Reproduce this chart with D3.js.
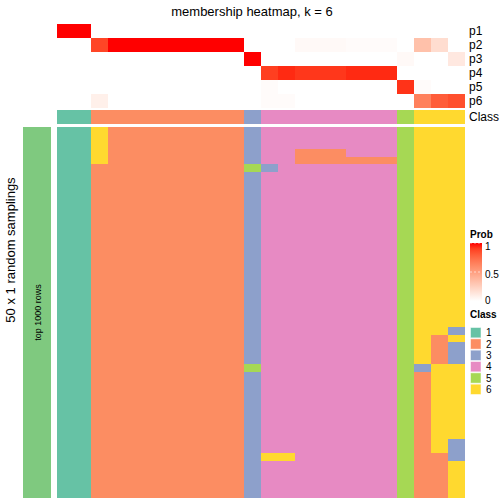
<!DOCTYPE html>
<html>
<head>
<meta charset="utf-8">
<script src="https://cdn.jsdelivr.net/npm/d3@7"></script>
<style>
  body { margin: 0; background: #fff; }
  svg { display: block; font-family: "Liberation Sans", Arial, Helvetica, sans-serif; }
</style>
</head>
<body>
<div id="chart"></div>
<script>
// ---------------- data ----------------
const title = "membership heatmap, k = 6";
const probRows = ["p1", "p2", "p3", "p4", "p5", "p6"];
const classes = [1, 2, 3, 4, 5, 6];
const columnClass = [1,1,2,2,2,2,2,2,2,2,2,3,4,4,4,4,4,4,4,4,5,6,6,6];
const p1 = [1,1,0,0,0,0,0,0,0,0,0,0,0,0,0,0,0,0,0,0,0,0,0,0];
const p2 = [0,0,0.88,1,1,1,1,1,1,1,1,0,0,0,0.03,0.03,0.03,0.02,0.02,0.02,0,0.33,0.18,0];
const p3 = [0,0,0,0,0,0,0,0,0,0,0,1,0,0,0,0,0,0,0,0,0.03,0,0,0.12];
const p4 = [0,0,0,0,0,0,0,0,0,0,0,0,0.9,0.95,0.92,0.92,0.92,0.95,0.95,0.95,0,0,0,0];
const p5 = [0,0,0,0,0,0,0,0,0,0,0,0,0.02,0,0,0,0,0,0,0,0.93,0.02,0,0];
const p6 = [0,0,0.08,0,0,0,0,0,0,0,0,0,0.02,0.02,0,0,0,0,0,0,0,0.65,0.8,0.85];
// 50 random samplings x 24 columns: class assigned in each sampling
const samplings = [
  "116222222223444444445666",
  "116222222223444444445666",
  "116222222223444444445666",
  "116222222223442224445666",
  "116222222223442222225666",
  "112222222225344444445666",
  "112222222223444444445666",
  "112222222223444444445666",
  "112222222223444444445666",
  "112222222223444444445666",
  "112222222223444444445666",
  "112222222223444444445666",
  "112222222223444444445666",
  "112222222223444444445666",
  "112222222223444444445666",
  "112222222223444444445666",
  "112222222223444444445666",
  "112222222223444444445666",
  "112222222223444444445666",
  "112222222223444444445666",
  "112222222223444444445666",
  "112222222223444444445666",
  "112222222223444444445666",
  "112222222223444444445666",
  "112222222223444444445666",
  "112222222223444444445666",
  "112222222223444444445666",
  "112222222223444444445663",
  "112222222223444444445626",
  "112222222223444444445623",
  "112222222223444444445623",
  "112222222223444444445623",
  "112222222225444444445366",
  "112222222223444444445266",
  "112222222223444444445266",
  "112222222223444444445266",
  "112222222223444444445266",
  "112222222223444444445266",
  "112222222223444444445266",
  "112222222223444444445266",
  "112222222223444444445266",
  "112222222223444444445266",
  "112222222223444444445263",
  "112222222223444444445263",
  "112222222223664444445223",
  "112222222223444444445226",
  "112222222223444444445226",
  "112222222223444444445226",
  "112222222223444444445226",
  "112222222223444444445226"
];
const probTicks = [0, 0.5, 1];
const leftTitle = "50 x 1 random samplings";
const sideLabel = "top 1000 rows";

// ---------------- drawing ----------------
const W = 504, H = 504;
const svg = d3.select("#chart").append("svg").attr("width", W).attr("height", H);

const nCol = columnClass.length;
const x = d3.scaleBand().domain(d3.range(nCol)).range([57, 465]);
const yP = d3.scaleBand().domain(probRows).range([24, 108]);
const yClass = [110, 124];
const yS = d3.scaleBand().domain(d3.range(samplings.length)).range([127, 498]);
const probColor = d3.scaleLinear().domain([0, 1]).range(["#ffffff", "#ff0000"]).interpolate(d3.interpolateLab);
const classColor = d3.scaleOrdinal().domain(classes).range(d3.schemeSet2.slice(0, 6));

// title
svg.append("text").attr("x", 252).attr("y", 16).attr("text-anchor", "middle")
  .attr("font-size", 13).text(title);

// probability rows
const probData = [p1, p2, p3, p4, p5, p6];
const gP = svg.append("g").attr("shape-rendering", "crispEdges");
probRows.forEach((name, ri) => {
  gP.selectAll(null).data(probData[ri]).join("rect")
    .attr("x", (d, i) => x(i)).attr("y", yP(name))
    .attr("width", x.bandwidth()).attr("height", yP.bandwidth())
    .attr("fill", d => probColor(d));
});
svg.selectAll(".plab").data(probRows).join("text")
  .attr("x", 469).attr("y", d => yP(d) + yP.bandwidth() / 2).attr("dy", "0.35em")
  .attr("font-size", 12).text(d => d);

// class row
svg.append("g").attr("shape-rendering", "crispEdges").selectAll("rect").data(columnClass).join("rect")
  .attr("x", (d, i) => x(i)).attr("y", yClass[0])
  .attr("width", x.bandwidth()).attr("height", yClass[1] - yClass[0])
  .attr("fill", d => classColor(d));
svg.append("text").attr("x", 469).attr("y", (yClass[0] + yClass[1]) / 2).attr("dy", "0.35em")
  .attr("font-size", 12).text("Class");

// samplings grid
const gS = svg.append("g").attr("shape-rendering", "crispEdges");
samplings.forEach((row, ri) => {
  gS.selectAll(null).data(row.split("").map(Number)).join("rect")
    .attr("x", (d, i) => x(i)).attr("y", yS(ri))
    .attr("width", x.bandwidth()).attr("height", yS.bandwidth())
    .attr("fill", d => classColor(d));
});

// left annotation bar
svg.append("rect").attr("x", 23).attr("y", 127).attr("width", 28).attr("height", 371)
  .attr("fill", "#7fc97f").attr("shape-rendering", "crispEdges");
svg.append("text").attr("transform", `translate(40.5,${(127 + 498) / 2}) rotate(-90)`)
  .attr("text-anchor", "middle").attr("font-size", 9).text(sideLabel);
svg.append("text").attr("transform", `translate(15,250) rotate(-90)`)
  .attr("text-anchor", "middle").attr("font-size", 13).text(leftTitle);

// Prob legend
const defs = svg.append("defs");
const grad = defs.append("linearGradient").attr("id", "pg").attr("x1", 0).attr("y1", 1).attr("x2", 0).attr("y2", 0);
d3.range(0, 1.0001, 0.1).forEach(t => grad.append("stop").attr("offset", t).attr("stop-color", probColor(t)));
const yLeg = d3.scaleLinear().domain([0, 1]).range([301, 243]);
svg.append("text").attr("x", 470).attr("y", 238).attr("font-size", 10).attr("font-weight", "bold").text("Prob");
svg.append("rect").attr("x", 470).attr("y", 243).attr("width", 12).attr("height", 58).attr("fill", "url(#pg)");
svg.selectAll(".ptick").data(probTicks.filter(t => t > 0)).join("line")
  .attr("x1", 470).attr("x2", 482).attr("y1", d => yLeg(d)).attr("y2", d => yLeg(d))
  .attr("stroke", "#ffffff").attr("stroke-opacity", 0.6).attr("stroke-dasharray", "2,2");
svg.selectAll(".ptl").data(probTicks).join("text")
  .attr("x", 485).attr("y", d => yLeg(d) + (d === 1 ? 3 : d === 0 ? -1 : 2)).attr("dy", "0.35em")
  .attr("font-size", 10).text(d => d);

// Class legend
svg.append("text").attr("x", 470).attr("y", 318).attr("font-size", 10).attr("font-weight", "bold").text("Class");
const legY = d3.scaleBand().domain(classes).range([327, 395]);
svg.selectAll(".csq").data(classes).join("rect")
  .attr("x", 470.5).attr("y", d => legY(d) + 0.5).attr("width", 10.5).attr("height", legY.bandwidth() - 1)
  .attr("fill", d => classColor(d)).attr("stroke", "#ffffff").attr("stroke-opacity", 0.5);
svg.selectAll(".clab").data(classes).join("text")
  .attr("x", 486).attr("y", d => legY(d) + legY.bandwidth() / 2).attr("dy", "0.35em")
  .attr("font-size", 10).text(d => d);
</script>
</body>
</html>
